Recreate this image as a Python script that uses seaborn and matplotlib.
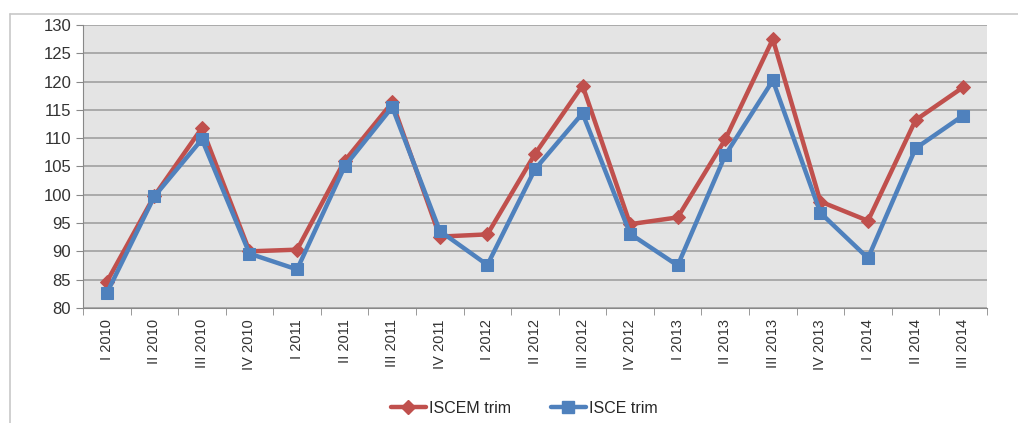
import numpy as np
import pandas as pd
import matplotlib.pyplot as plt
from matplotlib.lines import Line2D
from matplotlib.ticker import FixedLocator
import seaborn as sns

# Quarter labels and the two series
quarters = ['I 2010', 'II 2010', 'III 2010', 'IV 2010',
            'I 2011', 'II 2011', 'III 2011', 'IV 2011',
            'I 2012', 'II 2012', 'III 2012', 'IV 2012',
            'I 2013', 'II 2013', 'III 2013', 'IV 2013',
            'I 2014', 'II 2014', 'III 2014']
iscem_trim = [84.6, 99.8, 111.8, 90.0, 90.3, 106.0, 116.3, 92.6, 93.0, 107.2,
              119.3, 94.8, 96.0, 109.8, 127.5, 98.8, 95.4, 113.2, 119.0]
isce_trim = [82.6, 99.7, 109.8, 89.6, 86.8, 105.0, 115.5, 93.6, 87.6, 104.5,
             114.4, 93.1, 87.5, 107.0, 120.2, 96.8, 88.8, 108.2, 114.0]

red = '#C0504D'
blue = '#4F81BD'

sns.set_style('white')
plt.rcParams['font.family'] = ['Liberation Sans', 'DejaVu Sans']

df = pd.DataFrame({'quarter': quarters, 'ISCEM trim': iscem_trim, 'ISCE trim': isce_trim})
df['pos'] = np.arange(len(quarters))

fig = plt.figure(figsize=(10.18, 4.23), dpi=100)
ax = fig.add_axes([0.0815, 0.272, 0.888, 0.669])
ax.set_facecolor('#e4e4e4')

sns.lineplot(data=df, x='pos', y='ISCEM trim', ax=ax, color=red, lw=3.2,
             marker='D', markersize=7, markeredgecolor=red, zorder=3)
sns.lineplot(data=df, x='pos', y='ISCE trim', ax=ax, color=blue, lw=3.2,
             marker='s', markersize=9, markeredgecolor=blue, zorder=4)

ax.set_ylim(80, 130)
ax.set_yticks(range(80, 131, 5))
ax.set_xlim(-0.5, len(quarters) - 0.5)
ax.set_xticks(df['pos'])
ax.set_xticklabels(quarters, rotation=90, fontsize=10.5, color='#333333')
ax.xaxis.set_minor_locator(FixedLocator(np.arange(-0.5, len(quarters), 1)))
ax.tick_params(axis='x', which='major', length=0, pad=8)
ax.tick_params(axis='x', which='minor', length=5, color='#888888', bottom=True)
ax.tick_params(axis='y', length=5, color='#888888', left=True, labelsize=12, labelcolor='#333333')
ax.set_xlabel('')
ax.set_ylabel('')

ax.yaxis.grid(True, color='#a0a0a0', lw=1.2)
ax.set_axisbelow(True)
for side in ['top', 'right']:
    ax.spines[side].set_visible(False)
ax.spines['left'].set_color('#888888')
ax.spines['bottom'].set_color('#888888')

handles = [Line2D([0], [0], color=red, lw=3.2, marker='D', markersize=7),
           Line2D([0], [0], color=blue, lw=3.2, marker='s', markersize=9)]
fig.legend(handles, ['ISCEM trim', 'ISCE trim'], loc='center',
           bbox_to_anchor=(0.515, 0.035), ncol=2, frameon=False,
           fontsize=11.5, handlelength=2.2, handletextpad=0.2, columnspacing=2.5)

# outer chart frame
fig.add_artist(Line2D([10 / 1018, 1], [1 - 14 / 423, 1 - 14 / 423], color='#c8c8c8', lw=1.2))
fig.add_artist(Line2D([10 / 1018, 10 / 1018], [0, 1 - 14 / 423], color='#c8c8c8', lw=1.2))

fig.savefig('out.png', dpi=100)
